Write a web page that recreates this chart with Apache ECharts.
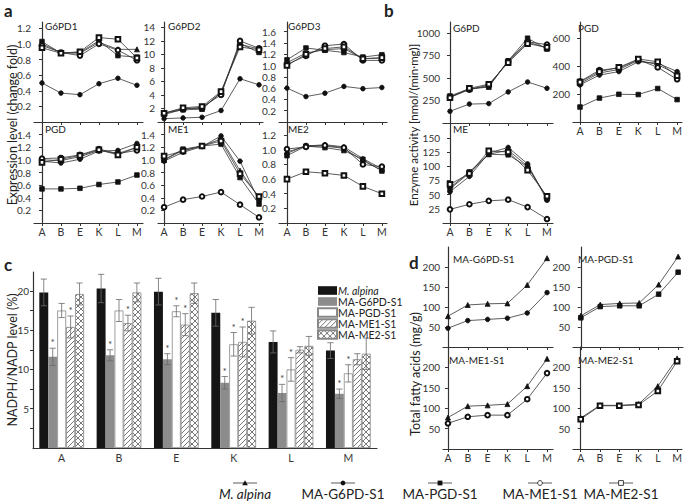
<!DOCTYPE html>
<html><head><meta charset="utf-8">
<script src="https://cdn.jsdelivr.net/npm/echarts@6/dist/echarts.min.js"></script>
<style>html,body{margin:0;padding:0;background:#fff}#c{width:685px;height:502px}</style>
</head><body><div id="c"></div>
<script>
// ---------- DATA ----------
const days = ['A','B','E','K','L','M'];
const strains = ['M. alpina','MA-G6PD-S1','MA-PGD-S1','MA-ME1-S1','MA-ME2-S1'];

// Panel a: expression level (change fold); rows follow strains order
const aG6PD1 = [
 [1.00, 0.89, 0.88, 1.02, 0.93, 0.93],
 [0.50, 0.37, 0.35, 0.49, 0.56, 0.47],
 [1.03, 0.88, 0.89, 1.04, 0.85, 0.83],
 [0.98, 0.89, 0.85, 1.00, 0.92, 0.79],
 [0.95, 0.88, 0.90, 1.08, 1.06, 0.82]];
const aG6PD2 = [
 [1.3, 2.0, 2.0, 4.3, 11.5, 10.8],
 [0.5, 0.6, 0.7, 1.7, 6.4, 5.5],
 [1.3, 1.8, 1.9, 4.4, 11.6, 10.3],
 [1.1, 1.9, 2.2, 4.0, 12.0, 10.9],
 [1.3, 2.1, 2.3, 4.5, 11.1, 10.7]];
const aG6PD3 = [
 [1.05, 1.22, 1.28, 1.30, 1.12, 1.13],
 [0.60, 0.45, 0.51, 0.63, 0.59, 0.61],
 [1.10, 1.31, 1.27, 1.23, 1.15, 1.19],
 [1.02, 1.17, 1.35, 1.38, 1.09, 1.09],
 [1.00, 1.20, 1.30, 1.33, 1.12, 1.14]];
const aPGD = [
 [1.00, 0.99, 1.05, 1.15, 1.10, 1.20],
 [0.98, 0.95, 1.01, 1.14, 1.15, 1.26],
 [0.54, 0.54, 0.55, 0.61, 0.65, 0.76],
 [1.02, 1.03, 1.08, 1.17, 1.10, 1.15],
 [0.96, 1.01, 1.07, 1.16, 1.08, 1.20]];
const aME1 = [
 [1.00, 1.15, 1.22, 1.33, 0.83, 0.40],
 [0.98, 1.12, 1.21, 1.38, 0.98, 0.35],
 [1.00, 1.17, 1.22, 1.25, 0.72, 0.30],
 [0.25, 0.37, 0.42, 0.49, 0.29, 0.09],
 [1.06, 1.14, 1.22, 1.30, 0.78, 0.42]];
const aME2 = [
 [0.97, 1.05, 1.07, 1.04, 0.88, 0.74],
 [0.95, 1.06, 1.05, 1.02, 0.85, 0.72],
 [0.92, 1.05, 1.03, 0.99, 0.87, 0.71],
 [1.01, 1.04, 1.06, 1.03, 0.80, 0.77],
 [0.60, 0.70, 0.68, 0.65, 0.50, 0.40]];

// Panel b: enzyme activity, nmol/(min·mg)
const bG6PD = [
 [290, 375, 400, 690, 900, 830],
 [130, 210, 215, 345, 455, 385],
 [300, 380, 405, 690, 940, 820],
 [285, 370, 420, 680, 900, 870],
 [280, 385, 430, 670, 880, 840]];
const bPGD = [
 [275, 350, 375, 440, 410, 340],
 [265, 335, 360, 430, 420, 360],
 [107, 171, 198, 196, 239, 160],
 [290, 370, 385, 445, 390, 305],
 [285, 360, 390, 450, 430, 330]];
const bME = [
 [60, 88, 121, 128, 100, 43],
 [55, 82, 123, 133, 104, 40],
 [62, 90, 121, 120, 99, 45],
 [24, 33, 39, 41, 28, 7],
 [68, 87, 127, 125, 93, 47]];

// Panel c: NADPH/NADP level (%), error and significance marks
const cAlpina = [19.8, 20.3, 19.9, 17.2, 13.5, 12.4];
const cG6PD   = [11.6, 11.8, 11.3, 8.3, 7.0, 6.9];
const cPGD    = [17.5, 17.5, 17.4, 13.2, 10.0, 9.5];
const cME1    = [15.4, 15.9, 15.7, 13.5, 12.5, 11.3];
const cME2    = [19.6, 19.8, 19.7, 16.2, 13.0, 12.0];
const cErrAlpina = [1.7, 1.8, 1.7, 1.7, 1.4, 1.0];
const cErrG6PD   = [1.1, 0.7, 0.7, 0.8, 1.1, 0.6];
const cErrPGD    = [0.9, 1.4, 0.7, 1.5, 1.5, 1.1];
const cErrME1    = [1.4, 1.0, 1.4, 1.9, 0.4, 0.7];
const cErrME2    = [1.4, 1.2, 1.3, 1.7, 1.2, 2.0];
const cStarAlpina = [0,0,0,0,0,0];
const cStarG6PD   = [1,1,1,1,1,1];
const cStarPGD    = [0,0,1,1,1,1];
const cStarME1    = [1,1,1,1,0,0];
const cStarME2    = [0,0,0,0,0,0];

// Panel d: total fatty acids (mg/g); [M. alpina, engineered strain]
const dG6PD = [[77, 105, 108, 109, 155, 222], [47, 66, 69, 72, 85, 136]];
const dPGD  = [[78, 106, 109, 110, 156, 226], [73, 101, 103, 103, 132, 187]];
const dME1  = [[77, 105, 107, 110, 154, 221], [63, 79, 83, 83, 122, 186]];
const dME2  = [[76, 107, 107, 110, 154, 222], [73, 106, 106, 108, 142, 215]];

// tick labels
const tA1 = [0.2,0.4,0.6,0.8,1.0,1.2];
const tA2 = [2,4,6,8,10,12,14];
const tA3 = [0.2,0.4,0.6,0.8,1.0,1.2,1.4,1.6];
const tA4 = [0.2,0.4,0.6,0.8,1.0,1.2,1.4];
const tA6 = [0.2,0.4,0.6,0.8,1.0,1.2];
const tB1 = [250,500,750,1000];
const tB2 = [200,400,600];
const tB3 = [25,50,75,100,125,150];
const tC  = [5,10,15,20];
const tCminor = [2.5,5,7.5,10,12.5,15,17.5,20];
const tD  = [50,100,150,200];

// ---------- LAYOUT / STYLE ----------
const FONT = 'Lato, "Open Sans", sans-serif';
const INK = '#222';
const AX = '#333';
const symbols = ['triangle','circle','rect','emptyCircle','emptyRect'];

const panels = [
 {title:'G6PD1', data:aG6PD1, who:[0,1,2,3,4], ticks:tA1, dec:1, grid:[34,22,109,100], x:[-0.42,5.32], ymax:1.28, tpos:[45,21], xl:false},
 {title:'G6PD2', data:aG6PD2, who:[0,1,2,3,4], ticks:tA2, dec:0, grid:[158,22,105,100], x:[-0.32,5.21], ymax:14.8, tpos:[168,21], xl:false},
 {title:'G6PD3', data:aG6PD3, who:[0,1,2,3,4], ticks:tA3, dec:1, grid:[279,22,108,100], x:[-0.42,5.27], ymax:1.77, tpos:[288,21], xl:false},
 {title:'PGD', data:aPGD, who:[0,1,2,3,4], ticks:tA4, dec:1, grid:[34,122,109,101], x:[-0.42,5.32], ymax:1.6, tpos:[45,124], xl:true},
 {title:'ME1', data:aME1, who:[0,1,2,3,4], ticks:tA4, dec:1, grid:[158,122,105,101], x:[-0.32,5.21], ymax:1.6, tpos:[168,124], xl:true},
 {title:'ME2', data:aME2, who:[0,1,2,3,4], ticks:tA6, dec:1, grid:[279,122,108,101], x:[-0.42,5.27], ymax:1.38, tpos:[288,124], xl:true},
 {title:'G6PD', data:bG6PD, who:[0,1,2,3,4], ticks:tB1, dec:0, grid:[443,22,110,101], x:[-0.36,5.31], ymax:1120, tpos:[453,23], xl:false},
 {title:'PGD', data:bPGD, who:[0,1,2,3,4], ticks:tB2, dec:0, grid:[573,22,110,100], x:[-0.36,5.25], ymax:714, tpos:[578,23], xl:true},
 {title:'ME', data:bME, who:[0,1,2,3,4], ticks:tB3, dec:0, grid:[443,123,110,100], x:[-0.36,5.31], ymax:176, tpos:[453,124], xl:true},
 {title:'MA-G6PD-S1', data:dG6PD, who:[0,1], ticks:tD, dec:0, grid:[443,247,110,100], x:[-0.25,5.3], ymax:250, tpos:[453,254], xl:false},
 {title:'MA-PGD-S1', data:dPGD, who:[0,2], ticks:tD, dec:0, grid:[573,247,110,100], x:[-0.4,5.25], ymax:250, tpos:[578,254], xl:false},
 {title:'MA-ME1-S1', data:dME1, who:[0,3], ticks:tD, dec:0, grid:[443,347,110,102], x:[-0.25,5.3], ymax:250, tpos:[449,355], xl:true},
 {title:'MA-ME2-S1', data:dME2, who:[0,4], ticks:tD, dec:0, grid:[573,347,110,102], x:[-0.4,5.25], ymax:250, tpos:[578,355], xl:true}
];

function hatch(cross){
  const s = cross ? 6 : 5;
  const cv = document.createElement('canvas'); cv.width = s; cv.height = s;
  const g = cv.getContext('2d');
  g.fillStyle = '#fff'; g.fillRect(0,0,s,s);
  g.strokeStyle = '#555'; g.lineWidth = 0.8;
  g.beginPath();
  g.moveTo(0,s); g.lineTo(s,0);
  g.moveTo(-1,1); g.lineTo(1,-1);
  g.moveTo(s-1,s+1); g.lineTo(s+1,s-1);
  if (cross){
    g.moveTo(0,0); g.lineTo(s,s);
    g.moveTo(-1,s-1); g.lineTo(1,s+1);
    g.moveTo(s-1,-1); g.lineTo(s+1,1);
  }
  g.stroke();
  return {image: cv, repeat: 'repeat', imageWidth: s, imageHeight: s};
}

const grid = [], xAxis = [], yAxis = [], series = [], graphic = [];
const xs = [0,1,2,3,4,5];

panels.forEach((p, k) => {
  grid.push({left:p.grid[0], top:p.grid[1], width:p.grid[2], height:p.grid[3]});
  xAxis.push({type:'value', gridIndex:k, min:p.x[0], max:p.x[1],
    axisLine:{show:true, onZero:false, lineStyle:{color:AX, width:1.2}},
    axisTick:{show:true, customValues:xs, length:3, lineStyle:{color:AX}},
    axisLabel:{show:p.xl, customValues:xs, formatter:v => days[Math.round(v)], color:AX, fontSize:10.5, fontFamily:FONT, margin:3},
    splitLine:{show:false}});
  yAxis.push({type:'value', gridIndex:k, min:0, max:p.ymax,
    axisLine:{show:true, lineStyle:{color:AX, width:1.2}},
    axisTick:{show:true, customValues:p.ticks, length:3, lineStyle:{color:AX}},
    axisLabel:{customValues:p.ticks, formatter:v => v.toFixed(p.dec), color:AX, fontSize:10, fontFamily:FONT, margin:3},
    splitLine:{show:false}});
  p.who.forEach((s, r) => {
    series.push({type:'line', name:p.title+' / '+strains[s], xAxisIndex:k, yAxisIndex:k,
      data:p.data[p.who.length === 5 ? s : r].map((v,i) => [i, v]),
      symbol:symbols[s], symbolSize: s === 0 ? 5 : 4.6, showAllSymbol:true,
      lineStyle:{color:'#333', width:0.8},
      itemStyle:{color:'#111', borderColor:'#111', borderWidth:0.8},
      silent:true, animation:false, z: 3 + r});
  });
  graphic.push({type:'text', x:p.tpos[0], y:p.tpos[1], silent:true,
    style:{text:p.title, fill:INK, fontSize:10, fontFamily:FONT, textVerticalAlign:'top'}});
});

// Panel c
const ck = panels.length;
grid.push({left:33, top:272, width:344, height:176});
xAxis.push({type:'category', gridIndex:ck, data:days,
  axisLine:{show:true, lineStyle:{color:AX, width:1.2}}, axisTick:{show:false},
  axisLabel:{color:AX, fontSize:10.5, fontFamily:FONT, margin:4}});
yAxis.push({type:'value', gridIndex:ck, min:0, max:22.4,
  axisLine:{show:true, lineStyle:{color:AX, width:1.2}},
  axisTick:{show:true, customValues:tCminor, length:3, lineStyle:{color:AX}},
  axisLabel:{customValues:tC, color:AX, fontSize:10, fontFamily:FONT, margin:4},
  splitLine:{show:false}});
const cVals = [cAlpina, cG6PD, cPGD, cME1, cME2];
const cErrs = [cErrAlpina, cErrG6PD, cErrPGD, cErrME1, cErrME2];
const cStars = [cStarAlpina, cStarG6PD, cStarPGD, cStarME1, cStarME2];
const barStyles = [
  {color:'#151515'},
  {color:'#8c8c8c'},
  {color:'#fff', borderColor:'#888', borderWidth:0.8},
  {color:hatch(false), borderColor:'#888', borderWidth:0.8},
  {color:hatch(true), borderColor:'#888', borderWidth:0.8}];
const GAP = 0.22;
strains.forEach((name, s) => {
  series.push({type:'bar', name, xAxisIndex:ck, yAxisIndex:ck, data:cVals[s],
    barGap:'0%', barCategoryGap:(GAP*100)+'%', itemStyle:barStyles[s], silent:true, animation:false});
});
strains.forEach((name, s) => {
  series.push({type:'custom', xAxisIndex:ck, yAxisIndex:ck, silent:true, animation:false, z:5,
    data:cVals[s].map((v,i) => [i, v, cErrs[s][i], cStars[s][i]]),
    renderItem(params, api){
      const i = api.value(0), v = api.value(1), e = api.value(2), st = api.value(3);
      const band = api.size([1,0])[0];
      const bw = band*(1-GAP)/5;
      const cx = api.coord([i, 0])[0] + (s-2)*bw;
      const yt = api.coord([i, v+e])[1], yb = api.coord([i, v-e])[1];
      const cap = bw*0.35;
      const ls = {stroke:'#6a6a6a', lineWidth:0.8};
      const ch = [
        {type:'line', shape:{x1:cx,y1:yt,x2:cx,y2:yb}, style:ls},
        {type:'line', shape:{x1:cx-cap,y1:yt,x2:cx+cap,y2:yt}, style:ls},
        {type:'line', shape:{x1:cx-cap,y1:yb,x2:cx+cap,y2:yb}, style:ls}];
      if (st) ch.push({type:'text', x:cx, y:yt-1, style:{text:'*', textAlign:'center', textVerticalAlign:'bottom', fontSize:9, fontFamily:FONT, fill:'#333'}});
      return {type:'group', children:ch};
    }});
});

// Labels, axis names
const T = (x, y, text, size, extra) => ({type:'text', x, y, silent:true,
  style:Object.assign({text, fill:INK, fontSize:size, fontFamily:FONT}, extra || {})});
graphic.push(T(4, 2, 'a', 17, {fontWeight:'bold'}));
graphic.push(T(384, 2, 'b', 17, {fontWeight:'bold'}));
graphic.push(T(4, 256, 'c', 17, {fontWeight:'bold'}));
graphic.push(T(409, 254, 'd', 17, {fontWeight:'bold'}));
const R = (x, y, text, size) => ({type:'text', x, y, rotation:Math.PI/2, silent:true,
  style:{text, fill:INK, fontSize:size, fontFamily:FONT, textAlign:'center', textVerticalAlign:'middle'}});
graphic.push(R(12, 125, 'Expression level (change fold)', 12.5));
graphic.push(R(413, 125, 'Enzyme activity [nmol/(min·mg)]', 11.5));
graphic.push(R(12, 360, 'NADPH/NADP level (%)', 12.5));
graphic.push(R(415, 374, 'Total fatty acids (mg/g)', 12.5));

// bottom legend for line panels
const legX = [245, 343, 440, 540, 621];
strains.forEach((name, s) => {
  const cx = legX[s], y = 483;
  graphic.push({type:'line', silent:true, shape:{x1:cx-12, y1:y, x2:cx+12, y2:y}, style:{stroke:'#333', lineWidth:0.8}});
  let sym;
  if (s === 0) sym = {type:'polygon', shape:{points:[[cx,y-2.8],[cx+2.8,y+2.2],[cx-2.8,y+2.2]]}, style:{fill:'#111'}};
  else if (s === 1) sym = {type:'circle', shape:{cx, cy:y, r:2.4}, style:{fill:'#111'}};
  else if (s === 2) sym = {type:'rect', shape:{x:cx-2.4, y:y-2.4, width:4.8, height:4.8}, style:{fill:'#111'}};
  else if (s === 3) sym = {type:'circle', shape:{cx, cy:y, r:2.4}, style:{fill:'#fff', stroke:'#111', lineWidth:0.8}};
  else sym = {type:'rect', shape:{x:cx-2.4, y:y-2.4, width:4.8, height:4.8}, style:{fill:'#fff', stroke:'#111', lineWidth:0.8}};
  sym.silent = true;
  graphic.push(sym);
  graphic.push(T(cx, 494, name, 13.5, {textAlign:'center', textVerticalAlign:'middle', fontStyle: s === 0 ? 'italic' : 'normal'}));
});

const chart = echarts.init(document.getElementById('c'), null, {renderer:'svg'});
chart.setOption({
  animation:false,
  backgroundColor:'#fff',
  textStyle:{fontFamily:FONT},
  grid, xAxis, yAxis, series, graphic,
  legend:[{
    data:strains, orient:'vertical', left:312, top:280, itemWidth:19, itemHeight:8.6, itemGap:0,
    icon:'rect', selectedMode:false,
    formatter: n => n === 'M. alpina' ? '{i|' + n + '}' : n,
    textStyle:{fontSize:10.5, fontFamily:FONT, color:INK, padding:[0,0,0,-4], lineHeight:9,
      rich:{i:{fontStyle:'italic', fontSize:10.5, fontFamily:FONT, color:INK}}}
  }]
});
</script>
</body></html>
